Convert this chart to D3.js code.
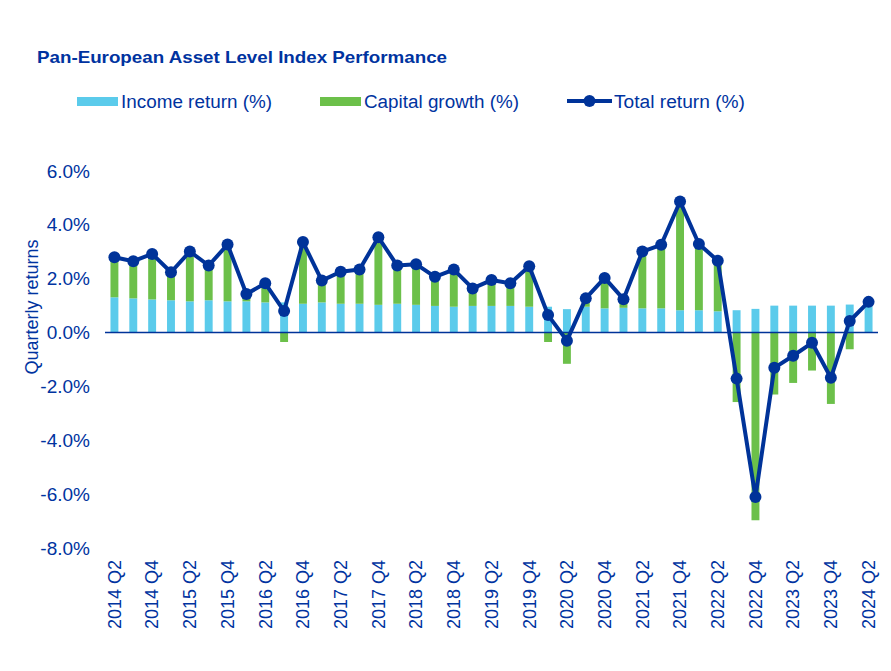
<!DOCTYPE html>
<html>
<head>
<meta charset="utf-8">
<script src="https://cdn.jsdelivr.net/npm/d3@7"></script>
<style>
  html, body { margin: 0; padding: 0; background: #ffffff; }
  svg { display: block; font-family: "Liberation Sans", Arial, sans-serif; }
</style>
</head>
<body>
<svg id="chart" width="891" height="671"></svg>
<script>
const quarters = [
  "2014 Q2","2014 Q3","2014 Q4","2015 Q1","2015 Q2","2015 Q3","2015 Q4",
  "2016 Q1","2016 Q2","2016 Q3","2016 Q4","2017 Q1","2017 Q2","2017 Q3","2017 Q4",
  "2018 Q1","2018 Q2","2018 Q3","2018 Q4","2019 Q1","2019 Q2","2019 Q3","2019 Q4",
  "2020 Q1","2020 Q2","2020 Q3","2020 Q4","2021 Q1","2021 Q2","2021 Q3","2021 Q4",
  "2022 Q1","2022 Q2","2022 Q3","2022 Q4","2023 Q1","2023 Q2","2023 Q3","2023 Q4",
  "2024 Q1","2024 Q2"
];
const incomeReturn = [
  1.31,1.27,1.23,1.20,1.16,1.20,1.16,
  1.16,1.12,1.12,1.07,1.12,1.07,1.07,1.03,
  1.07,1.03,0.99,0.96,0.99,0.99,0.99,0.96,
  0.96,0.87,0.96,0.90,0.92,0.90,0.90,0.83,
  0.83,0.79,0.83,0.88,1.00,1.00,1.00,1.00,
  1.04,1.00
];
const capitalGrowth = [
  1.49,1.38,1.69,1.04,1.85,1.29,2.11,
  0.27,0.71,-0.35,2.29,0.81,1.19,1.27,2.51,
  1.42,1.51,1.08,1.38,0.65,0.96,0.84,1.50,
  -0.35,-1.16,0.31,1.13,0.32,2.11,2.36,4.04,
  2.46,1.88,-2.58,-6.97,-2.30,-1.87,-1.41,-2.65,
  -0.62,0.14
];
const totalReturn = [
  2.80,2.65,2.92,2.24,3.01,2.49,3.27,
  1.43,1.83,0.80,3.36,1.93,2.26,2.34,3.54,
  2.49,2.54,2.07,2.34,1.64,1.95,1.83,2.46,
  0.65,-0.30,1.27,2.03,1.24,3.01,3.26,4.87,
  3.29,2.67,-1.71,-6.11,-1.31,-0.86,-0.38,-1.68,
  0.43,1.14
];
const yTicks = [6, 4, 2, 0, -2, -4, -6, -8];
const xTickLabels = quarters.filter((q, i) => i % 2 === 0);
const seriesNames = ["Income return (%)", "Capital growth (%)", "Total return (%)"];

const C_INCOME = "#5bcbeb";
const C_CAPITAL = "#6cc04a";
const C_LINE = "#003399";
const C_TEXT = "#0033a0";

const svg = d3.select("#chart");

const x = d3.scaleBand().domain(quarters).range([105, 878]).paddingInner(0.58).paddingOuter(0.29);
const y = d3.scaleLinear().domain([-8, 6]).range([548, 171]);
const cx = q => x(q) + x.bandwidth() / 2;

// Title
svg.append("text")
  .attr("x", 37).attr("y", 63)
  .attr("fill", C_TEXT)
  .attr("font-weight", "bold")
  .attr("font-size", 17)
  .attr("textLength", 410).attr("lengthAdjust", "spacingAndGlyphs")
  .text("Pan-European Asset Level Index Performance");

// Legend
const lg = svg.append("g");
const legendItems = [
  { name: seriesNames[0], x: 77, type: "rect", color: C_INCOME, len: 151 },
  { name: seriesNames[1], x: 320, type: "rect", color: C_CAPITAL, len: 155 },
  { name: seriesNames[2], x: 567, type: "line", color: C_LINE, len: 131 }
];
legendItems.forEach(it => {
  if (it.type === "rect") {
    lg.append("rect").attr("x", it.x).attr("y", 97).attr("width", 41).attr("height", 9).attr("fill", it.color);
    lg.append("text").attr("x", it.x + 44).attr("y", 107.5).attr("fill", C_TEXT).attr("font-size", 18)
      .attr("textLength", it.len).attr("lengthAdjust", "spacingAndGlyphs").text(it.name);
  } else {
    lg.append("line").attr("x1", it.x).attr("x2", it.x + 45).attr("y1", 101).attr("y2", 101)
      .attr("stroke", it.color).attr("stroke-width", 4);
    lg.append("circle").attr("cx", it.x + 22.5).attr("cy", 101).attr("r", 6).attr("fill", it.color);
    lg.append("text").attr("x", it.x + 47).attr("y", 107.5).attr("fill", C_TEXT).attr("font-size", 18)
      .attr("textLength", it.len).attr("lengthAdjust", "spacingAndGlyphs").text(it.name);
  }
});

// Y axis
const yAxis = d3.axisLeft(y).tickValues(yTicks).tickSize(0).tickPadding(0)
  .tickFormat(d => d.toFixed(1) + "%");
const gy = svg.append("g").attr("transform", "translate(90,0)").call(yAxis);
gy.select(".domain").remove();
gy.selectAll("text").attr("fill", C_TEXT).attr("font-size", 19).attr("font-family", "'Liberation Sans', Arial, sans-serif");

svg.append("text")
  .attr("transform", "translate(38,307) rotate(-90)")
  .attr("text-anchor", "middle")
  .attr("fill", C_TEXT).attr("font-size", 18)
  .text("Quarterly returns");

// Bars: income
svg.append("g").selectAll("rect").data(quarters).join("rect")
  .attr("x", d => x(d)).attr("width", x.bandwidth())
  .attr("y", (d, i) => y(incomeReturn[i]))
  .attr("height", (d, i) => y(0) - y(incomeReturn[i]))
  .attr("fill", C_INCOME);

// Bars: capital
svg.append("g").selectAll("rect").data(quarters).join("rect")
  .attr("x", d => x(d)).attr("width", x.bandwidth())
  .attr("y", (d, i) => capitalGrowth[i] >= 0 ? y(incomeReturn[i] + capitalGrowth[i]) : y(0))
  .attr("height", (d, i) => capitalGrowth[i] >= 0
      ? y(incomeReturn[i]) - y(incomeReturn[i] + capitalGrowth[i])
      : y(capitalGrowth[i]) - y(0))
  .attr("fill", C_CAPITAL);

// Zero line
svg.append("line")
  .attr("x1", 105).attr("x2", 878).attr("y1", y(0)).attr("y2", y(0))
  .attr("stroke", C_LINE).attr("stroke-width", 1.5);

// X axis labels
const xAxis = d3.axisBottom(x).tickValues(xTickLabels).tickSize(0).tickPadding(0);
const gx = svg.append("g").attr("transform", "translate(0,560)").call(xAxis);
gx.select(".domain").remove();
gx.selectAll("text")
  .attr("fill", C_TEXT).attr("font-size", 18)
  .attr("font-family", "'Liberation Sans', Arial, sans-serif")
  .attr("transform", "rotate(-90)")
  .attr("text-anchor", "end")
  .attr("x", 0).attr("y", 0).attr("dy", "0.35em");

// Total return line
const line = d3.line().x(d => cx(d[0])).y(d => y(d[1]));
const pts = quarters.map((q, i) => [q, totalReturn[i]]);
svg.append("path").datum(pts)
  .attr("d", line).attr("fill", "none")
  .attr("stroke", C_LINE).attr("stroke-width", 4).attr("stroke-linejoin", "round");
svg.append("g").selectAll("circle").data(pts).join("circle")
  .attr("cx", d => cx(d[0])).attr("cy", d => y(d[1])).attr("r", 6)
  .attr("fill", C_LINE);
</script>
</body>
</html>
